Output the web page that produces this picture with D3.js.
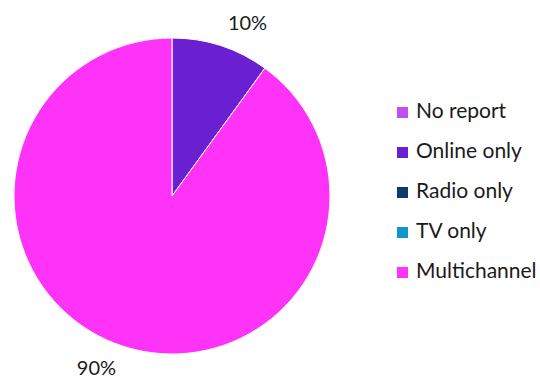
<!DOCTYPE html>
<html>
<head>
<meta charset="utf-8">
<script src="https://cdn.jsdelivr.net/npm/d3@7"></script>
<style>
  html, body { margin: 0; padding: 0; background: #ffffff; }
  svg { display: block; }
  text { font-family: Lato, "Open Sans", sans-serif; fill: #1a1a1a; }
</style>
</head>
<body>
<svg id="chart" width="540" height="378"></svg>
<script>
// Share of reports by channel (percent)
const categories = ["No report", "Online only", "Radio only", "TV only", "Multichannel"];
const shares = [0, 10, 0, 0, 90];
const colors = ["#c050ee", "#6a1fd1", "#0b3c6e", "#0d98cf", "#ff33f8"];

const svg = d3.select("#chart");
const cx = 172, cy = 196, radius = 158, labelRadius = 181;

const color = d3.scaleOrdinal().domain(categories).range(colors);

const data = categories.map((c, i) => ({ category: c, value: shares[i] }));

const pie = d3.pie()
  .value(d => d.value)
  .sort(null)
  .startAngle(0)
  .endAngle(2 * Math.PI);

const arcs = pie(data);
const arc = d3.arc().innerRadius(0).outerRadius(radius);

const g = svg.append("g").attr("transform", `translate(${cx},${cy})`);

g.selectAll("path.slice")
  .data(arcs.filter(a => a.data.value > 0))
  .join("path")
  .attr("class", "slice")
  .attr("d", arc)
  .attr("fill", d => color(d.data.category))
  .attr("stroke", "#ffffff")
  .attr("stroke-width", 1);

// Percentage labels outside the pie
g.selectAll("text.pct")
  .data(arcs.filter(a => a.data.value > 0))
  .join("text")
  .attr("class", "pct")
  .each(function (d) {
    const mid = (d.startAngle + d.endAngle) / 2;
    const x = Math.sin(mid) * labelRadius;
    const y = -Math.cos(mid) * labelRadius;
    d3.select(this)
      .attr("x", x)
      .attr("y", y)
      .attr("dy", "0.33em")
      .attr("text-anchor", x >= 0 ? "start" : "end");
  })
  .style("font-size", "20px")
  .text(d => `${d.data.value}%`);

// Legend
const legend = svg.append("g").attr("transform", "translate(397,118)");
const rowGap = 40;
const rows = legend.selectAll("g.row")
  .data(categories)
  .join("g")
  .attr("class", "row")
  .attr("transform", (d, i) => `translate(0,${i * rowGap})`);

rows.append("rect")
  .attr("x", 0)
  .attr("y", -11)
  .attr("width", 11)
  .attr("height", 11)
  .attr("fill", d => color(d));

rows.append("text")
  .attr("x", 19)
  .attr("y", 0)
  .style("font-size", "21px")
  .text(d => d);
</script>
</body>
</html>
